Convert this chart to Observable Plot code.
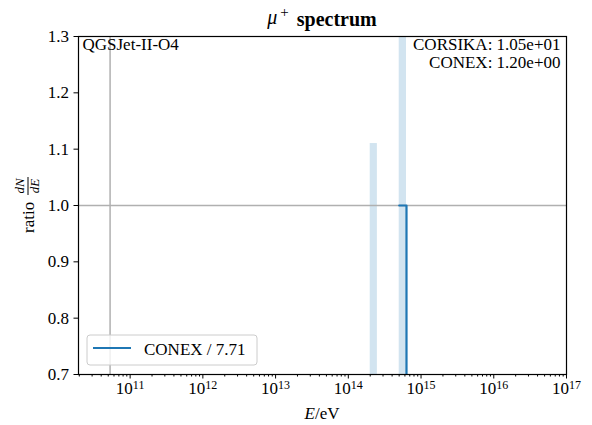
<!DOCTYPE html>
<html><head><meta charset="utf-8">
<script src="https://cdn.jsdelivr.net/npm/d3@7"></script>
<script src="https://cdn.jsdelivr.net/npm/@observablehq/plot@0.6"></script>
<style>
body{margin:0;background:#fff}
svg text{font-family:"Liberation Serif","Times New Roman",serif}
</style></head><body><div id="chart"></div>
<script>
// ---- data ----
const xDomain = [1.95e10, 1e17];
const yDomain = [0.7, 1.3];
const xTicks = [1e11, 1e12, 1e13, 1e14, 1e15, 1e16, 1e17];
const yTicks = [0.7, 0.8, 0.9, 1.0, 1.1, 1.2, 1.3];
const corsikaLo = [2.0e14, 5.01e14];
const corsikaHi = [2.51e14, 6.31e14];
const corsikaRatio = [1.11, 1.6];
const conexE = [5.01e14, 6.31e14, 6.31e14, 1e17];
const conexRatio = [1.0, 1.0, 0.0, 0.0];
const refE = [5.3e10];
const refRatio = [1.0];
const modelLabel = "QGSJet-II-O4";
const infoLines = ["CORSIKA: 1.05e+01", "CONEX: 1.20e+00"];
const legendLabel = "CONEX / 7.71";

const xMinor = [];
for (let p = 10; p < 17; p++) for (let k = 2; k <= 9; k++) xMinor.push(k * Math.pow(10, p));

const bars = corsikaLo.map((lo, i) => ({lo, hi: corsikaHi[i], r: corsikaRatio[i]}));
const conex = conexE.map((e, i) => ({e, r: conexRatio[i]}));

const plot = Plot.plot({
  width: 592, height: 425,
  marginLeft: 78, marginRight: 26, marginTop: 36, marginBottom: 51,
  style: {fontFamily: "Liberation Serif, serif", fontSize: "17px", color: "black", background: "white", overflow: "visible"},
  x: {type: "log", domain: xDomain, label: null},
  y: {domain: yDomain, label: null},
  marks: [
    Plot.rect(bars, {x1: "lo", x2: "hi", y1: 0, y2: "r", fill: "#1f77b4", fillOpacity: 0.2, clip: true}),
    Plot.ruleY(refRatio, {stroke: "#b0b0b0", strokeWidth: 1.5}),
    Plot.ruleX(refE, {stroke: "#b0b0b0", strokeWidth: 1.5}),
    Plot.line(conex, {x: "e", y: "r", stroke: "#1f77b4", strokeWidth: 2.2, clip: true}),
    Plot.frame({stroke: "black", strokeWidth: 1.2}),
    Plot.axisX({ticks: xMinor, tickSize: 2.5, tickFormat: () => ""}),
    Plot.axisX({ticks: xTicks, tickSize: 4.5, tickPadding: 3, tickFormat: d => "10^" + Math.round(Math.log10(d))}),
    Plot.axisY({ticks: yTicks, tickSize: 4.5, tickPadding: 5, tickFormat: d3.format(".1f")}),
    Plot.text([modelLabel], {frameAnchor: "top-left", dx: 4, dy: 1, lineAnchor: "top", textAnchor: "start"}),
    Plot.text([infoLines.join("\n")], {frameAnchor: "top-right", dx: -6, dy: 1, lineAnchor: "top", textAnchor: "end", lineHeight: 1.05})
  ]
});
document.getElementById("chart").append(plot);

const svg = d3.select(plot);
// superscript tick labels
svg.selectAll("text").each(function() {
  const t = this.textContent;
  const m = /^10\^(\d+)$/.exec(t);
  if (m) {
    const sel = d3.select(this);
    sel.text(null);
    sel.append("tspan").text("10");
    sel.append("tspan").attr("dy", "-0.45em").attr("font-size", "12px").text(m[1]);
  }
});

const cx = (78 + 566) / 2;
// title
const title = svg.append("text").attr("x", cx).attr("y", 24).attr("text-anchor", "middle").attr("font-size", "20px");
title.append("tspan").attr("font-style", "italic").text("μ");
title.append("tspan").attr("dx", "3").attr("dy", "-0.45em").attr("font-size", "15px").text("+");
title.append("tspan").attr("dx", "8").attr("dy", "0.45em").attr("font-weight", "bold").text("spectrum");

// x label
const xl = svg.append("text").attr("x", cx).attr("y", 419).attr("text-anchor", "middle").attr("font-size", "17px");
xl.append("tspan").attr("font-style", "italic").text("E");
xl.append("tspan").text("/eV");

// y label
const yl = svg.append("g").attr("transform", "translate(34,233) rotate(-90)");
yl.append("text").attr("x", 0).attr("y", 0).attr("text-anchor", "start").attr("font-size", "17px").text("ratio");
yl.append("text").attr("x", 47).attr("y", -10).attr("text-anchor", "middle").attr("font-size", "13px").attr("font-style", "italic").text("dN");
yl.append("line").attr("x1", 38).attr("x2", 56).attr("y1", -6).attr("y2", -6).attr("stroke", "black").attr("stroke-width", 1);
yl.append("text").attr("x", 47).attr("y", 5).attr("text-anchor", "middle").attr("font-size", "13px").attr("font-style", "italic").text("dE");

// legend
const lg = svg.append("g");
lg.append("rect").attr("x", 87).attr("y", 335).attr("width", 170).attr("height", 30).attr("rx", 3)
  .attr("fill", "white").attr("fill-opacity", 0.8).attr("stroke", "#cccccc");
lg.append("line").attr("x1", 93).attr("x2", 131).attr("y1", 348).attr("y2", 348).attr("stroke", "#1f77b4").attr("stroke-width", 2);
lg.append("text").attr("x", 144).attr("y", 355).attr("text-anchor", "start").attr("font-size", "17px").text(legendLabel);
</script></body></html>
